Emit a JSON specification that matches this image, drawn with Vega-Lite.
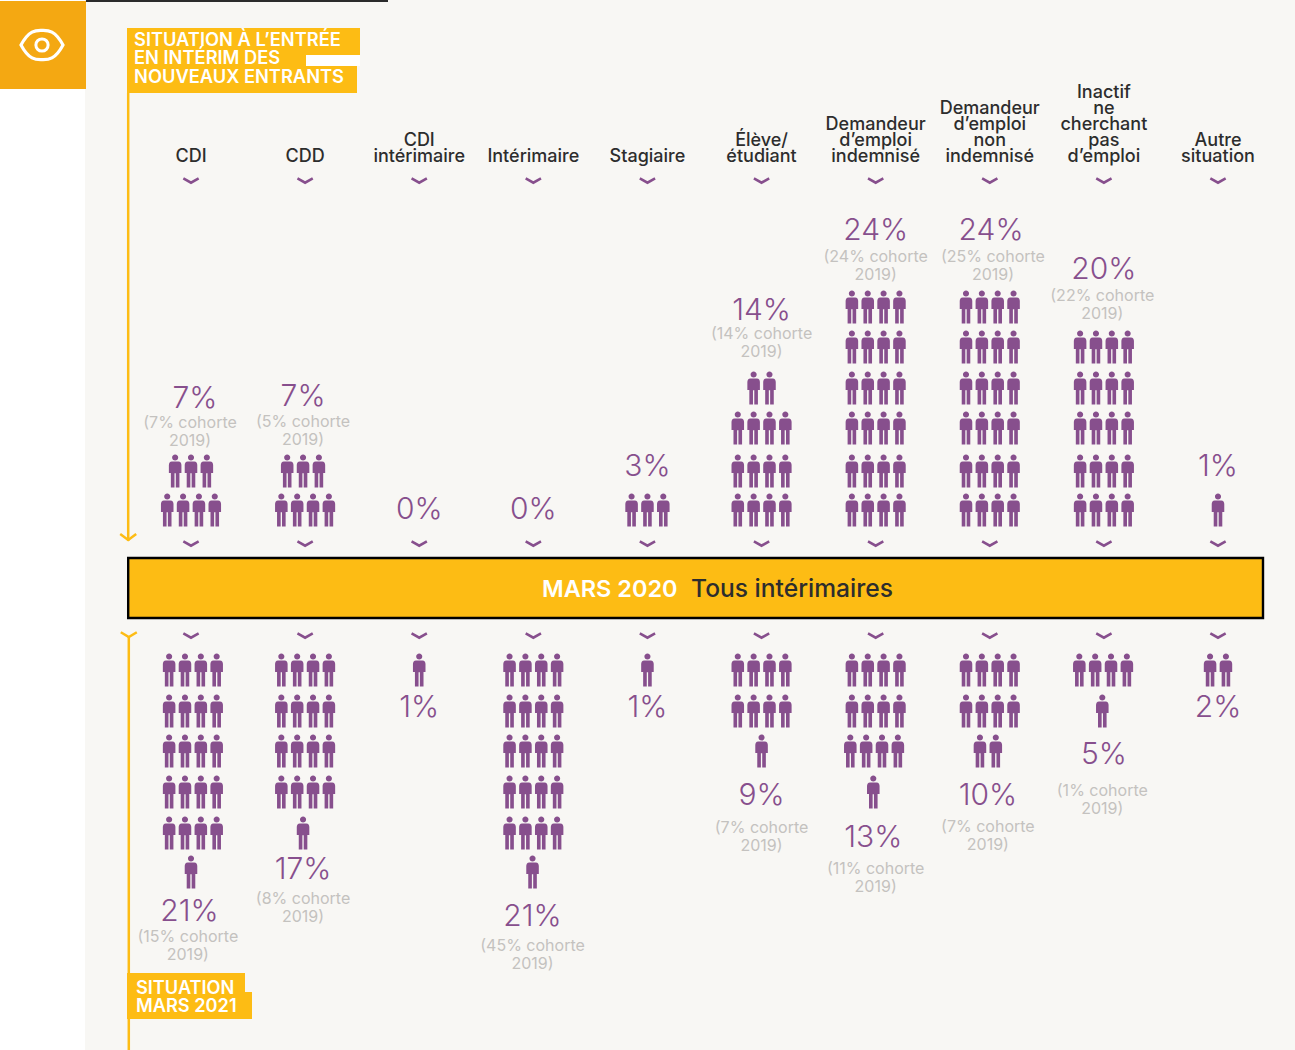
{"$schema":"https://vega.github.io/schema/vega-lite/v6.json","width":1295,"height":1050,"padding":0,"autosize":{"type":"fit","contains":"padding"},"background":"#f8f7f4","config":{"view":{"stroke":null}},
"datasets":{
"icones":[
{"statut":"CDI","rang":1,"place":-1.5},{"statut":"CDI","rang":1,"place":-0.5},{"statut":"CDI","rang":1,"place":0.5},{"statut":"CDI","rang":1,"place":1.5},
{"statut":"CDI","rang":2,"place":-1},{"statut":"CDI","rang":2,"place":0},{"statut":"CDI","rang":2,"place":1},
{"statut":"CDD","rang":1,"place":-1.5},{"statut":"CDD","rang":1,"place":-0.5},{"statut":"CDD","rang":1,"place":0.5},{"statut":"CDD","rang":1,"place":1.5},
{"statut":"CDD","rang":2,"place":-1.13},{"statut":"CDD","rang":2,"place":-0.13},{"statut":"CDD","rang":2,"place":0.87},
{"statut":"Stagiaire","rang":1,"place":-1},{"statut":"Stagiaire","rang":1,"place":0},{"statut":"Stagiaire","rang":1,"place":1},
{"statut":"Élève","rang":1,"place":-1.5},{"statut":"Élève","rang":1,"place":-0.5},{"statut":"Élève","rang":1,"place":0.5},{"statut":"Élève","rang":1,"place":1.5},
{"statut":"Élève","rang":2,"place":-1.5},{"statut":"Élève","rang":2,"place":-0.5},{"statut":"Élève","rang":2,"place":0.5},{"statut":"Élève","rang":2,"place":1.5},
{"statut":"Élève","rang":3,"place":-1.5},{"statut":"Élève","rang":3,"place":-0.5},{"statut":"Élève","rang":3,"place":0.5},{"statut":"Élève","rang":3,"place":1.5},
{"statut":"Élève","rang":4,"place":-0.5},{"statut":"Élève","rang":4,"place":0.5},
{"statut":"DE indemnisé","rang":1,"place":-1.5},{"statut":"DE indemnisé","rang":1,"place":-0.5},{"statut":"DE indemnisé","rang":1,"place":0.5},{"statut":"DE indemnisé","rang":1,"place":1.5},
{"statut":"DE indemnisé","rang":2,"place":-1.5},{"statut":"DE indemnisé","rang":2,"place":-0.5},{"statut":"DE indemnisé","rang":2,"place":0.5},{"statut":"DE indemnisé","rang":2,"place":1.5},
{"statut":"DE indemnisé","rang":3,"place":-1.5},{"statut":"DE indemnisé","rang":3,"place":-0.5},{"statut":"DE indemnisé","rang":3,"place":0.5},{"statut":"DE indemnisé","rang":3,"place":1.5},
{"statut":"DE indemnisé","rang":4,"place":-1.5},{"statut":"DE indemnisé","rang":4,"place":-0.5},{"statut":"DE indemnisé","rang":4,"place":0.5},{"statut":"DE indemnisé","rang":4,"place":1.5},
{"statut":"DE indemnisé","rang":5,"place":-1.5},{"statut":"DE indemnisé","rang":5,"place":-0.5},{"statut":"DE indemnisé","rang":5,"place":0.5},{"statut":"DE indemnisé","rang":5,"place":1.5},
{"statut":"DE indemnisé","rang":6,"place":-1.5},{"statut":"DE indemnisé","rang":6,"place":-0.5},{"statut":"DE indemnisé","rang":6,"place":0.5},{"statut":"DE indemnisé","rang":6,"place":1.5},
{"statut":"DE non indemnisé","rang":1,"place":-1.5},{"statut":"DE non indemnisé","rang":1,"place":-0.5},{"statut":"DE non indemnisé","rang":1,"place":0.5},{"statut":"DE non indemnisé","rang":1,"place":1.5},
{"statut":"DE non indemnisé","rang":2,"place":-1.5},{"statut":"DE non indemnisé","rang":2,"place":-0.5},{"statut":"DE non indemnisé","rang":2,"place":0.5},{"statut":"DE non indemnisé","rang":2,"place":1.5},
{"statut":"DE non indemnisé","rang":3,"place":-1.5},{"statut":"DE non indemnisé","rang":3,"place":-0.5},{"statut":"DE non indemnisé","rang":3,"place":0.5},{"statut":"DE non indemnisé","rang":3,"place":1.5},
{"statut":"DE non indemnisé","rang":4,"place":-1.5},{"statut":"DE non indemnisé","rang":4,"place":-0.5},{"statut":"DE non indemnisé","rang":4,"place":0.5},{"statut":"DE non indemnisé","rang":4,"place":1.5},
{"statut":"DE non indemnisé","rang":5,"place":-1.5},{"statut":"DE non indemnisé","rang":5,"place":-0.5},{"statut":"DE non indemnisé","rang":5,"place":0.5},{"statut":"DE non indemnisé","rang":5,"place":1.5},
{"statut":"DE non indemnisé","rang":6,"place":-1.5},{"statut":"DE non indemnisé","rang":6,"place":-0.5},{"statut":"DE non indemnisé","rang":6,"place":0.5},{"statut":"DE non indemnisé","rang":6,"place":1.5},
{"statut":"Inactif","rang":1,"place":-1.5},{"statut":"Inactif","rang":1,"place":-0.5},{"statut":"Inactif","rang":1,"place":0.5},{"statut":"Inactif","rang":1,"place":1.5},
{"statut":"Inactif","rang":2,"place":-1.5},{"statut":"Inactif","rang":2,"place":-0.5},{"statut":"Inactif","rang":2,"place":0.5},{"statut":"Inactif","rang":2,"place":1.5},
{"statut":"Inactif","rang":3,"place":-1.5},{"statut":"Inactif","rang":3,"place":-0.5},{"statut":"Inactif","rang":3,"place":0.5},{"statut":"Inactif","rang":3,"place":1.5},
{"statut":"Inactif","rang":4,"place":-1.5},{"statut":"Inactif","rang":4,"place":-0.5},{"statut":"Inactif","rang":4,"place":0.5},{"statut":"Inactif","rang":4,"place":1.5},
{"statut":"Inactif","rang":5,"place":-1.5},{"statut":"Inactif","rang":5,"place":-0.5},{"statut":"Inactif","rang":5,"place":0.5},{"statut":"Inactif","rang":5,"place":1.5},
{"statut":"Autre","rang":1,"place":0},
{"statut":"CDI","rang":-1,"place":-1.38},{"statut":"CDI","rang":-1,"place":-0.38},{"statut":"CDI","rang":-1,"place":0.62},{"statut":"CDI","rang":-1,"place":1.62},
{"statut":"CDI","rang":-2,"place":-1.38},{"statut":"CDI","rang":-2,"place":-0.38},{"statut":"CDI","rang":-2,"place":0.62},{"statut":"CDI","rang":-2,"place":1.62},
{"statut":"CDI","rang":-3,"place":-1.38},{"statut":"CDI","rang":-3,"place":-0.38},{"statut":"CDI","rang":-3,"place":0.62},{"statut":"CDI","rang":-3,"place":1.62},
{"statut":"CDI","rang":-4,"place":-1.38},{"statut":"CDI","rang":-4,"place":-0.38},{"statut":"CDI","rang":-4,"place":0.62},{"statut":"CDI","rang":-4,"place":1.62},
{"statut":"CDI","rang":-5,"place":-1.38},{"statut":"CDI","rang":-5,"place":-0.38},{"statut":"CDI","rang":-5,"place":0.62},{"statut":"CDI","rang":-5,"place":1.62},
{"statut":"CDI","rang":-6,"place":0},
{"statut":"CDD","rang":-1,"place":-1.5},{"statut":"CDD","rang":-1,"place":-0.5},{"statut":"CDD","rang":-1,"place":0.5},{"statut":"CDD","rang":-1,"place":1.5},
{"statut":"CDD","rang":-2,"place":-1.5},{"statut":"CDD","rang":-2,"place":-0.5},{"statut":"CDD","rang":-2,"place":0.5},{"statut":"CDD","rang":-2,"place":1.5},
{"statut":"CDD","rang":-3,"place":-1.5},{"statut":"CDD","rang":-3,"place":-0.5},{"statut":"CDD","rang":-3,"place":0.5},{"statut":"CDD","rang":-3,"place":1.5},
{"statut":"CDD","rang":-4,"place":-1.5},{"statut":"CDD","rang":-4,"place":-0.5},{"statut":"CDD","rang":-4,"place":0.5},{"statut":"CDD","rang":-4,"place":1.5},
{"statut":"CDD","rang":-5,"place":-0.13},
{"statut":"CDI intérimaire","rang":-1,"place":0},
{"statut":"Intérimaire","rang":-1,"place":-1.5},{"statut":"Intérimaire","rang":-1,"place":-0.5},{"statut":"Intérimaire","rang":-1,"place":0.5},{"statut":"Intérimaire","rang":-1,"place":1.5},
{"statut":"Intérimaire","rang":-2,"place":-1.5},{"statut":"Intérimaire","rang":-2,"place":-0.5},{"statut":"Intérimaire","rang":-2,"place":0.5},{"statut":"Intérimaire","rang":-2,"place":1.5},
{"statut":"Intérimaire","rang":-3,"place":-1.5},{"statut":"Intérimaire","rang":-3,"place":-0.5},{"statut":"Intérimaire","rang":-3,"place":0.5},{"statut":"Intérimaire","rang":-3,"place":1.5},
{"statut":"Intérimaire","rang":-4,"place":-1.5},{"statut":"Intérimaire","rang":-4,"place":-0.5},{"statut":"Intérimaire","rang":-4,"place":0.5},{"statut":"Intérimaire","rang":-4,"place":1.5},
{"statut":"Intérimaire","rang":-5,"place":-1.5},{"statut":"Intérimaire","rang":-5,"place":-0.5},{"statut":"Intérimaire","rang":-5,"place":0.5},{"statut":"Intérimaire","rang":-5,"place":1.5},
{"statut":"Intérimaire","rang":-6,"place":-0.05},
{"statut":"Stagiaire","rang":-1,"place":0},
{"statut":"Élève","rang":-1,"place":-1.5},{"statut":"Élève","rang":-1,"place":-0.5},{"statut":"Élève","rang":-1,"place":0.5},{"statut":"Élève","rang":-1,"place":1.5},
{"statut":"Élève","rang":-2,"place":-1.5},{"statut":"Élève","rang":-2,"place":-0.5},{"statut":"Élève","rang":-2,"place":0.5},{"statut":"Élève","rang":-2,"place":1.5},
{"statut":"Élève","rang":-3,"place":0},
{"statut":"DE indemnisé","rang":-1,"place":-1.5},{"statut":"DE indemnisé","rang":-1,"place":-0.5},{"statut":"DE indemnisé","rang":-1,"place":0.5},{"statut":"DE indemnisé","rang":-1,"place":1.5},
{"statut":"DE indemnisé","rang":-2,"place":-1.5},{"statut":"DE indemnisé","rang":-2,"place":-0.5},{"statut":"DE indemnisé","rang":-2,"place":0.5},{"statut":"DE indemnisé","rang":-2,"place":1.5},
{"statut":"DE indemnisé","rang":-3,"place":-1.6},{"statut":"DE indemnisé","rang":-3,"place":-0.6},{"statut":"DE indemnisé","rang":-3,"place":0.4},{"statut":"DE indemnisé","rang":-3,"place":1.4},
{"statut":"DE indemnisé","rang":-4,"place":-0.15},
{"statut":"DE non indemnisé","rang":-1,"place":-1.5},{"statut":"DE non indemnisé","rang":-1,"place":-0.5},{"statut":"DE non indemnisé","rang":-1,"place":0.5},{"statut":"DE non indemnisé","rang":-1,"place":1.5},
{"statut":"DE non indemnisé","rang":-2,"place":-1.5},{"statut":"DE non indemnisé","rang":-2,"place":-0.5},{"statut":"DE non indemnisé","rang":-2,"place":0.5},{"statut":"DE non indemnisé","rang":-2,"place":1.5},
{"statut":"DE non indemnisé","rang":-3,"place":-0.62},{"statut":"DE non indemnisé","rang":-3,"place":0.38},
{"statut":"Inactif","rang":-1,"place":-1.55},{"statut":"Inactif","rang":-1,"place":-0.55},{"statut":"Inactif","rang":-1,"place":0.45},{"statut":"Inactif","rang":-1,"place":1.45},
{"statut":"Inactif","rang":-2,"place":-0.1},
{"statut":"Autre","rang":-1,"place":-0.5},{"statut":"Autre","rang":-1,"place":0.5}
],
"chevrons":[
{"statut":"CDI","rang":9,"place":0},{"statut":"CDD","rang":9,"place":0},{"statut":"CDI intérimaire","rang":9,"place":0},{"statut":"Intérimaire","rang":9,"place":0},{"statut":"Stagiaire","rang":9,"place":0},{"statut":"Élève","rang":9,"place":0},{"statut":"DE indemnisé","rang":9,"place":0},{"statut":"DE non indemnisé","rang":9,"place":0},{"statut":"Inactif","rang":9,"place":0},{"statut":"Autre","rang":9,"place":0},
{"statut":"CDI","rang":0.5,"place":0},{"statut":"CDD","rang":0.5,"place":0},{"statut":"CDI intérimaire","rang":0.5,"place":0},{"statut":"Intérimaire","rang":0.5,"place":0},{"statut":"Stagiaire","rang":0.5,"place":0},{"statut":"Élève","rang":0.5,"place":0},{"statut":"DE indemnisé","rang":0.5,"place":0},{"statut":"DE non indemnisé","rang":0.5,"place":0},{"statut":"Inactif","rang":0.5,"place":0},{"statut":"Autre","rang":0.5,"place":0},
{"statut":"CDI","rang":-0.5,"place":0},{"statut":"CDD","rang":-0.5,"place":0},{"statut":"CDI intérimaire","rang":-0.5,"place":0},{"statut":"Intérimaire","rang":-0.5,"place":0},{"statut":"Stagiaire","rang":-0.5,"place":0},{"statut":"Élève","rang":-0.5,"place":0},{"statut":"DE indemnisé","rang":-0.5,"place":0},{"statut":"DE non indemnisé","rang":-0.5,"place":0},{"statut":"Inactif","rang":-0.5,"place":0},{"statut":"Autre","rang":-0.5,"place":0}
],
"entetes":[
{"statut":"CDI","rang":10,"place":0,"texte":"CDI"},{"statut":"CDD","rang":10,"place":0,"texte":"CDD"},{"statut":"CDI intérimaire","rang":11,"place":0,"texte":"CDI\nintérimaire"},{"statut":"Intérimaire","rang":10,"place":0,"texte":"Intérimaire"},{"statut":"Stagiaire","rang":10,"place":0,"texte":"Stagiaire"},{"statut":"Élève","rang":11,"place":0,"texte":"Élève/\nétudiant"},{"statut":"DE indemnisé","rang":12,"place":0,"texte":"Demandeur\nd’emploi\nindemnisé"},{"statut":"DE non indemnisé","rang":13,"place":0,"texte":"Demandeur\nd’emploi\nnon\nindemnisé"},{"statut":"Inactif","rang":14,"place":0,"texte":"Inactif\nne\ncherchant\npas\nd’emploi"},{"statut":"Autre","rang":11,"place":0,"texte":"Autre\nsituation"}
],
"pourcentages":[
{"statut":"CDI","texte":"7%","rang":3.775,"place":0.25},{"statut":"CDD","texte":"7%","rang":3.825,"place":-0.13},{"statut":"CDI intérimaire","texte":"0%","rang":1.05,"place":0},{"statut":"Intérimaire","texte":"0%","rang":1.03,"place":0},{"statut":"Stagiaire","texte":"3%","rang":2.12,"place":0},{"statut":"Élève","texte":"14%","rang":5.95,"place":0},{"statut":"DE indemnisé","texte":"24%","rang":7.88,"place":0},{"statut":"DE non indemnisé","texte":"24%","rang":7.88,"place":0.08},{"statut":"Inactif","texte":"20%","rang":6.95,"place":0},{"statut":"Autre","texte":"1%","rang":2.12,"place":0},
{"statut":"CDI","texte":"21%","rang":-6.93,"place":-0.1},{"statut":"CDD","texte":"17%","rang":-5.92,"place":-0.13},{"statut":"CDI intérimaire","texte":"1%","rang":-1.88,"place":0},{"statut":"Intérimaire","texte":"21%","rang":-7.07,"place":-0.05},{"statut":"Stagiaire","texte":"1%","rang":-1.88,"place":0},{"statut":"Élève","texte":"9%","rang":-4.07,"place":0},{"statut":"DE indemnisé","texte":"13%","rang":-5.1,"place":-0.15},{"statut":"DE non indemnisé","texte":"10%","rang":-4.07,"place":-0.12},{"statut":"Inactif","texte":"5%","rang":-3.07,"place":0},{"statut":"Autre","texte":"2%","rang":-1.88,"place":0}
],
"cohortes":[
{"statut":"CDI","texte":"(7% cohorte\n2019)","rang":2.93,"place":-0.06},{"statut":"CDD","texte":"(5% cohorte\n2019)","rang":2.95,"place":-0.13},{"statut":"Élève","texte":"(14% cohorte\n2019)","rang":5.12,"place":0},{"statut":"DE indemnisé","texte":"(24% cohorte\n2019)","rang":7.02,"place":0},{"statut":"DE non indemnisé","texte":"(25% cohorte\n2019)","rang":7.02,"place":0.2},{"statut":"Inactif","texte":"(22% cohorte\n2019)","rang":6.07,"place":-0.1},
{"statut":"CDI","texte":"(15% cohorte\n2019)","rang":-7.78,"place":-0.2},{"statut":"CDD","texte":"(8% cohorte\n2019)","rang":-6.85,"place":-0.13},{"statut":"Intérimaire","texte":"(45% cohorte\n2019)","rang":-8.01,"place":-0.05},{"statut":"Élève","texte":"(7% cohorte\n2019)","rang":-5.08,"place":0},{"statut":"DE indemnisé","texte":"(11% cohorte\n2019)","rang":-6.12,"place":0},{"statut":"DE non indemnisé","texte":"(7% cohorte\n2019)","rang":-5.05,"place":-0.12},{"statut":"Inactif","texte":"(1% cohorte\n2019)","rang":-4.18,"place":-0.1}
]
},
"layer":[
{"data":{"values":[{"e":"marge"}]},"mark":{"type":"rect","fill":"#ffffff"},"encoding":{"x":{"value":0},"x2":{"value":85},"y":{"value":0},"y2":{"value":1050}}},
{"data":{"values":[{"e":"filet"}]},"mark":{"type":"rect","fill":"#2b2b2b"},"encoding":{"x":{"value":86},"x2":{"value":388},"y":{"value":0},"y2":{"value":2}}},
{"data":{"values":[{"e":"pictogramme"}]},"mark":{"type":"rect","fill":"#f4a812"},"encoding":{"x":{"value":0},"x2":{"value":86},"y":{"value":1},"y2":{"value":89}}},
{"data":{"values":[{"e":"oeil"}]},"mark":{"type":"point","filled":false,"stroke":"#ffffff","strokeWidth":3.2,"opacity":1,"size":1764,"shape":"M-1,0 C-0.6,-0.75 -0.25,-0.7 0,-0.7 C0.25,-0.7 0.6,-0.75 1,0 C0.6,0.75 0.25,0.7 0,0.7 C-0.25,0.7 -0.6,0.75 -1,0 Z"},"encoding":{"x":{"value":42},"y":{"value":45}}},
{"data":{"values":[{"e":"pupille"}]},"mark":{"type":"point","filled":false,"stroke":"#ffffff","strokeWidth":3,"opacity":1,"size":150,"shape":"circle"},"encoding":{"x":{"value":42},"y":{"value":45}}},
{"data":{"values":[{"e":"axe haut"}]},"mark":{"type":"rule","stroke":"#fdbc14","strokeWidth":2.5},"encoding":{"x":{"value":128.2},"y":{"value":93},"y2":{"value":541}}},
{"data":{"values":[{"e":"axe bas"}]},"mark":{"type":"rule","stroke":"#fdbc14","strokeWidth":2.5},"encoding":{"x":{"value":128.8},"y":{"value":637},"y2":{"value":1050}}},
{"data":{"values":[{"e":"fleche haut"}]},"mark":{"type":"point","filled":false,"stroke":"#fdbc14","strokeWidth":2.5,"opacity":1,"size":256,"shape":"M-1,-0.75 L0,0 L1,-0.75"},"encoding":{"x":{"value":128.2},"y":{"value":540}}},
{"data":{"values":[{"e":"fleche bas"}]},"mark":{"type":"point","filled":false,"stroke":"#fdbc14","strokeWidth":2.5,"opacity":1,"size":256,"shape":"M-1,-0.6 L0,0 L1,-0.6"},"encoding":{"x":{"value":128.8},"y":{"value":637}}},
{"data":{"values":[{"e":"t1"}]},"mark":{"type":"rect","fill":"#fdbc14"},"encoding":{"x":{"value":127},"x2":{"value":360},"y":{"value":28},"y2":{"value":55}}},
{"data":{"values":[{"e":"t2"}]},"mark":{"type":"rect","fill":"#fdbc14"},"encoding":{"x":{"value":127},"x2":{"value":306},"y":{"value":55},"y2":{"value":66}}},
{"data":{"values":[{"e":"t2b"}]},"mark":{"type":"rect","fill":"#ffffff"},"encoding":{"x":{"value":306},"x2":{"value":360},"y":{"value":55},"y2":{"value":66}}},
{"data":{"values":[{"e":"t3"}]},"mark":{"type":"rect","fill":"#fdbc14"},"encoding":{"x":{"value":127},"x2":{"value":357},"y":{"value":66},"y2":{"value":93}}},
{"data":{"values":[{"texte":"SITUATION À L’ENTRÉE\nEN INTÉRIM DES\nNOUVEAUX ENTRANTS"}]},"mark":{"type":"text","font":"Inter","fontSize":18.3,"fontWeight":600,"fill":"#ffffff","align":"left","baseline":"middle","lineBreak":"\n","lineHeight":18.5},"encoding":{"text":{"field":"texte"},"x":{"value":134},"y":{"value":40.5}}},
{"data":{"values":[{"e":"s1"}]},"mark":{"type":"rect","fill":"#fdbc14"},"encoding":{"x":{"value":127},"x2":{"value":245},"y":{"value":973},"y2":{"value":999}}},
{"data":{"values":[{"e":"s2"}]},"mark":{"type":"rect","fill":"#fdbc14"},"encoding":{"x":{"value":127},"x2":{"value":252},"y":{"value":992},"y2":{"value":1019}}},
{"data":{"values":[{"texte":"SITUATION\nMARS 2021"}]},"mark":{"type":"text","font":"Inter","fontSize":18.2,"fontWeight":600,"fill":"#ffffff","align":"left","baseline":"middle","lineBreak":"\n","lineHeight":18},"encoding":{"text":{"field":"texte"},"x":{"value":136},"y":{"value":989}}},
{"data":{"values":[{"e":"bandeau"}]},"mark":{"type":"rect","fill":"#fdbc14","stroke":"#000000","strokeWidth":2.4},"encoding":{"x":{"value":128.2},"x2":{"value":1263},"y":{"value":558},"y2":{"value":618}}},
{"data":{"values":[{"texte":"MARS 2020"}]},"mark":{"type":"text","font":"Inter","fontSize":23.5,"fontWeight":600,"fill":"#ffffff","align":"left","baseline":"middle"},"encoding":{"text":{"field":"texte"},"x":{"value":542},"y":{"value":590}}},
{"data":{"values":[{"texte":"Tous intérimaires"}]},"mark":{"type":"text","font":"Inter","fontSize":24.6,"fontWeight":500,"fill":"#2d2d2d","align":"left","baseline":"middle"},"encoding":{"text":{"field":"texte"},"x":{"value":691},"y":{"value":590}}},
{"encoding":{
"x":{"field":"statut","type":"nominal","axis":null,"sort":null,"scale":{"type":"point","domain":["CDI","CDD","CDI intérimaire","Intérimaire","Stagiaire","Élève","DE indemnisé","DE non indemnisé","Inactif","Autre"],"range":[191,1218],"padding":0}},
"xOffset":{"field":"place","type":"quantitative","scale":{"type":"linear","domain":[-2,2],"range":[-31.7,31.7],"zero":false,"nice":false}},
"y":{"field":"rang","type":"quantitative","axis":null,"scale":{"type":"linear","zero":false,"nice":false,"domain":[-9,-8,-7,-6,-5,-4,-3,-2,-1,-0.5,0.5,1,2,3,4,5,6,7,8,9,10,11,12,13,14],"range":[995,954,913,872,833,792,751,711,670,636,544,510,471,428,388,347,307,266,225,181,156.5,140.5,124.5,108.5,92.5]}}
},
"layer":[
{"data":{"name":"icones"},"mark":{"type":"point","filled":true,"fill":"#874f8d","stroke":null,"opacity":1,"size":1089,"shape":"M0,-1 A0.185,0.185 0 1,1 0,-0.63 A0.185,0.185 0 1,1 0,-1 Z M-0.2,-0.58 L0.2,-0.58 Q0.38,-0.56 0.38,-0.36 L0.38,0.12 L0.26,0.12 L0.26,1 L0.04,1 L0.04,0.14 L-0.04,0.14 L-0.04,1 L-0.26,1 L-0.26,0.12 L-0.38,0.12 L-0.38,-0.36 Q-0.38,-0.56 -0.2,-0.58 Z"}},
{"data":{"name":"chevrons"},"mark":{"type":"point","filled":false,"stroke":"#874f8d","strokeWidth":2.6,"opacity":1,"size":289,"shape":"M-0.9,-0.3 L0,0.2 L0.9,-0.3"}},
{"data":{"name":"entetes"},"mark":{"type":"text","font":"Inter","fontSize":18,"fontWeight":500,"fill":"#2d2d2d","align":"center","baseline":"middle","lineBreak":"\n","lineHeight":16},"encoding":{"text":{"field":"texte"}}},
{"data":{"name":"pourcentages"},"mark":{"type":"text","font":"Inter","fontSize":30,"fontWeight":300,"fill":"#874f8d","align":"center","baseline":"middle","dy":1.5},"encoding":{"text":{"field":"texte"}}},
{"data":{"name":"cohortes"},"mark":{"type":"text","font":"Inter","fontSize":16,"fontWeight":400,"fill":"#c4c2bf","align":"center","baseline":"middle","lineBreak":"\n","lineHeight":18,"dy":-8},"encoding":{"text":{"field":"texte"}}}
]}
]}
